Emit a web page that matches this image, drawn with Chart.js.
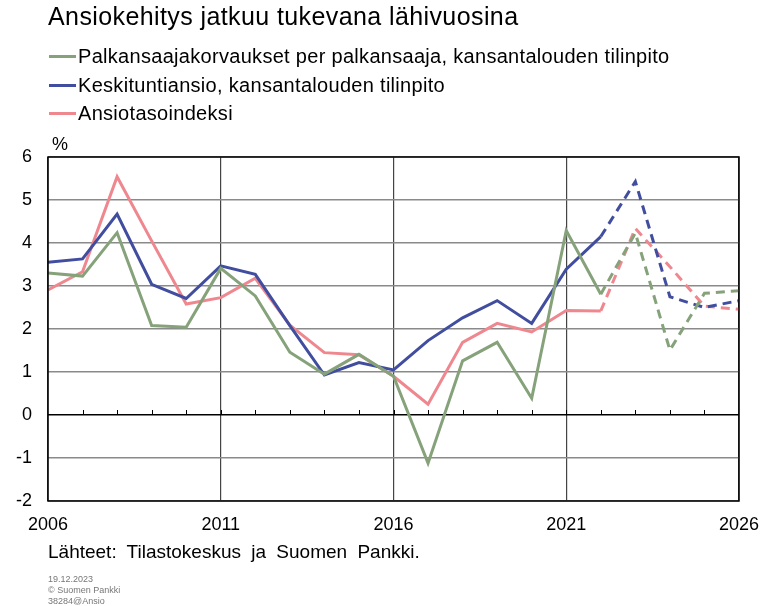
<!DOCTYPE html>
<html>
<head>
<meta charset="utf-8">
<script src="https://cdn.jsdelivr.net/npm/chart.js@4"></script>
<style>
  body { margin: 0; background: #fff; font-family: "Liberation Sans", Arial, sans-serif; }
  #wrap { position: relative; width: 764px; height: 606px; }
  canvas { position: absolute; left: 0; top: 0; }
  .txt { position: absolute; color: #000; white-space: nowrap; }
  .title { left: 48px; top: 2px; font-size: 25px; letter-spacing: 0.4px; }
  .leg { left: 49px; font-size: 20px; letter-spacing: 0.3px; }
  .leg span.sw { display: inline-block; width: 27px; height: 3px; vertical-align: middle; margin-right: 2px; position: relative; top: -1px; }
  .unit { left: 52px; top: 134px; font-size: 18px; }
  .src { left: 48px; top: 541px; font-size: 19px; word-spacing: 5px; }
  .foot { left: 48px; font-size: 9px; color: #777; }
</style>
</head>
<body>
<div id="wrap">
  <canvas id="chart" width="764" height="606"></canvas>
  <div class="txt title">Ansiokehitys jatkuu tukevana lähivuosina</div>
  <div class="txt leg" id="leg0" style="top:45px"></div>
  <div class="txt leg" id="leg1" style="top:74px"></div>
  <div class="txt leg" id="leg2" style="top:102px"></div>
  <div class="txt unit">%</div>
  <div class="txt src">Lähteet: Tilastokeskus ja Suomen Pankki.</div>
  <div class="txt foot" style="top:574px">19.12.2023</div>
  <div class="txt foot" style="top:585px">© Suomen Pankki</div>
  <div class="txt foot" style="top:596px">38284@Ansio</div>
</div>
<script>
// vuodet 2006–2026, ennuste alkaa 2022 jälkeen (katkoviiva)
const years = [2006, 2007, 2008, 2009, 2010, 2011, 2012, 2013, 2014, 2015, 2016,
  2017, 2018, 2019, 2020, 2021, 2022, 2023, 2024, 2025, 2026];
const forecastFrom = 2022;

const palkansaaja = [3.30, 3.23, 4.24, 2.08, 2.04, 3.41, 2.77, 1.46, 0.95, 1.41, 0.90,
  -1.12, 1.26, 1.69, 0.39, 4.29, 2.81, 4.23, 1.51, 2.83, 2.89];
const keskituntiansio = [3.55, 3.63, 4.67, 3.04, 2.71, 3.47, 3.27, 2.08, 0.93, 1.22, 1.05,
  1.73, 2.26, 2.66, 2.13, 3.39, 4.15, 5.43, 2.75, 2.50, 2.66];
const ansiotaso = [2.91, 3.33, 5.54, 4.05, 2.58, 2.73, 3.18, 2.09, 1.45, 1.40, 0.90,
  0.25, 1.69, 2.13, 1.93, 2.43, 2.42, 4.34, 3.45, 2.53, 2.46];

const seriesNames = [
  'Palkansaajakorvaukset per palkansaaja, kansantalouden tilinpito',
  'Keskituntiansio, kansantalouden tilinpito',
  'Ansiotasoindeksi',
];
const seriesColors = ['#86a27a', '#414d9f', '#ef878f'];
const seriesValues = [palkansaaja, keskituntiansio, ansiotaso];

const yTicks = [-2, -1, 0, 1, 2, 3, 4, 5, 6];
const xLabelYears = [2006, 2011, 2016, 2021, 2026];

// selite HTML:nä
seriesNames.forEach((name, i) => {
  const el = document.getElementById('leg' + i);
  el.innerHTML = `<span class="sw" style="background:${seriesColors[i]}"></span>${name}`;
});

const forecastIdx = years.indexOf(forecastFrom);

// kehys + vuosittaiset väliviivat nollatasolle
const framePlugin = {
  id: 'frame',
  afterDatasetsDraw(chart) {
    const { ctx, chartArea: a, scales } = chart;
    const y0 = scales.y.getPixelForValue(0);
    ctx.save();
    ctx.strokeStyle = '#000';
    ctx.lineWidth = 1;
    ctx.beginPath();
    years.forEach(yr => {
      if (yr === years[0] || yr === years[years.length - 1]) return;
      const x = Math.round(scales.x.getPixelForValue(yr)) + 0.5;
      ctx.moveTo(x, y0);
      ctx.lineTo(x, y0 - 5);
    });
    ctx.stroke();
    ctx.lineWidth = 1.5;
    ctx.strokeRect(a.left, a.top, a.right - a.left, a.bottom - a.top);
    ctx.restore();
  },
};

new Chart(document.getElementById('chart'), {
  type: 'line',
  data: {
    datasets: seriesValues.map((vals, i) => ({
      label: seriesNames[i],
      data: years.map((yr, j) => ({ x: yr, y: vals[j] })),
      borderColor: seriesColors[i],
      borderWidth: 3,
      pointRadius: 0,
      fill: false,
      tension: 0,
      segment: {
        borderDash: c => c.p0DataIndex >= forecastIdx ? [9, 6] : undefined,
      },
    })),
  },
  options: {
    responsive: false,
    animation: false,
    layout: { padding: { top: 157, right: 25, left: 0, bottom: 0 } },
    plugins: { legend: { display: false }, tooltip: { enabled: false } },
    scales: {
      x: {
        type: 'linear',
        min: 2006,
        max: 2026,
        afterFit: s => { s.height = 105; s.paddingLeft = 0; s.paddingRight = 0; },
        afterBuildTicks: s => { s.ticks = xLabelYears.map(v => ({ value: v })); },
        ticks: {
          callback: v => String(v),
          color: '#000',
          padding: 13,
          maxRotation: 0,
          autoSkip: false,
          font: { family: '"Liberation Sans", Arial, sans-serif', size: 18 },
        },
        grid: { color: '#444', lineWidth: 1.2, drawTicks: false },
        border: { display: false },
      },
      y: {
        min: -2,
        max: 6,
        afterFit: s => { s.width = 48; s.paddingTop = 0; s.paddingBottom = 0; },
        afterBuildTicks: s => { s.ticks = yTicks.map(v => ({ value: v })); },
        ticks: {
          color: '#000',
          padding: 16,
          font: { family: '"Liberation Sans", Arial, sans-serif', size: 18 },
        },
        grid: {
          color: c => c.tick && c.tick.value === 0 ? '#000' : '#8a8a8a',
          lineWidth: 1.5,
          drawTicks: false,
        },
        border: { display: false },
      },
    },
  },
  plugins: [framePlugin],
});
</script>
</body>
</html>
